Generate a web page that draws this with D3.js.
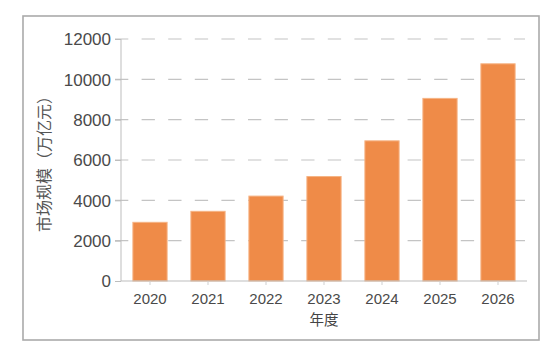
<!DOCTYPE html>
<html><head><meta charset="utf-8">
<script src="https://cdn.jsdelivr.net/npm/d3@7"></script>
<style>body{margin:0;background:#fff;} svg{display:block;}</style>
</head><body>
<script>
const years = ["2020","2021","2022","2023","2024","2025","2026"];
const values = [2910, 3455, 4210, 5180, 6950, 9055, 10770];
const yTicks = [0,2000,4000,6000,8000,10000,12000];
const yTitle = "市场规模（万亿元）";
const xTitle = "年度";

(function(){
const W = 558, H = 346;
const svg = d3.select("body").append("svg").attr("width", W).attr("height", H);

// frame
svg.append("rect").attr("x",23).attr("y",16).attr("width",516).attr("height",324)
  .attr("fill","#fff").attr("stroke","#aaaaaa").attr("stroke-width",1.6);

const pl = 121, pr = 527, pt = 39, pb = 281;
const x = d3.scaleBand().domain(years).range([pl, pr]).paddingInner(0.41).paddingOuter(0.205);
const y = d3.scaleLinear().domain([0,12000]).range([pb, pt]);

// gridlines
svg.append("g").selectAll("line").data(yTicks.filter(d=>d>0)).join("line")
  .attr("x1",115).attr("x2",525).attr("y1",d=>y(d)).attr("y2",d=>y(d))
  .attr("stroke","#c4c4c4").attr("stroke-width",1.2).attr("stroke-dasharray","13.3,13.3");

// y axis
const yAxis = d3.axisLeft(y).tickValues(yTicks).tickSize(6).tickPadding(4).tickFormat(d3.format("d"));
const gy = svg.append("g").attr("transform",`translate(${pl},0)`).call(yAxis);
gy.select(".domain").attr("stroke","#bdbdbd").attr("d",`M0,${pt}V${pb}`);
gy.selectAll(".tick line").attr("stroke","#bdbdbd");
gy.selectAll(".tick text").attr("font-family","Liberation Sans, Arial, sans-serif")
  .attr("font-size","17px").attr("fill","#4a4a4a").attr("dy","0.35em");

// bars
svg.append("g").selectAll("rect").data(values).join("rect")
  .attr("x",(d,i)=>x(years[i])).attr("width",x.bandwidth())
  .attr("y",d=>y(d)).attr("height",d=>pb-y(d))
  .attr("fill","#ef8b48").attr("stroke","#f6b384").attr("stroke-width",1);

// x axis
const xAxis = d3.axisBottom(x).tickSize(4).tickPadding(8);
const gx = svg.append("g").attr("transform",`translate(0,${pb})`).call(xAxis);
gx.select(".domain").attr("stroke","#bdbdbd").attr("d",`M${pl},0H${pr}`);
gx.selectAll(".tick line").attr("stroke","#cfcfcf");
gx.selectAll(".tick text").attr("font-family","Liberation Sans, Arial, sans-serif")
  .attr("font-size","15px").attr("fill","#4a4a4a");

// titles
svg.append("text").attr("transform",`translate(50,160) rotate(-90)`)
  .attr("text-anchor","middle").attr("font-family","Noto Sans CJK SC, sans-serif")
  .attr("font-size","16px").attr("fill","#555").text(yTitle);
svg.append("text").attr("x",(pl+pr)/2).attr("y",325)
  .attr("text-anchor","middle").attr("font-family","Noto Sans CJK SC, sans-serif")
  .attr("font-size","14.5px").attr("fill","#444").text(xTitle);
})();
</script>
</body></html>
